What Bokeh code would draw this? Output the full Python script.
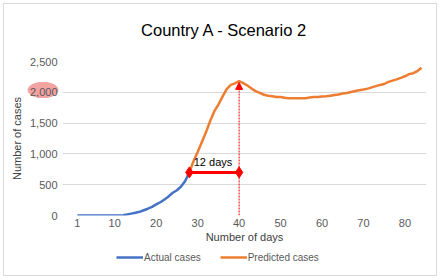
from bokeh.plotting import figure
from bokeh.layouts import column
from bokeh.models import (Range1d, Legend, LegendItem, Label, Arrow, NormalHead,
                          NumeralTickFormatter, FixedTicker)
from bokeh.embed import file_html
from bokeh.resources import INLINE

# ---- data ----
actual_days = list(range(1, 29))
actual_cases = [0, 0, 0, 0, 0, 0, 0, 0, 0, 0, 2, 5, 15, 30, 45, 60, 85, 110,
                140, 180, 215, 260, 310, 370, 410, 470, 560, 700]

predicted_days = list(range(28, 85))
predicted_cases = [700, 880, 1030, 1190, 1350, 1530, 1690, 1800, 1930, 2050,
                   2120, 2145, 2180, 2150, 2110, 2060, 2020, 1990, 1960, 1945,
                   1935, 1925, 1925, 1910, 1905, 1905, 1905, 1905, 1905, 1915,
                   1925, 1925, 1930, 1935, 1945, 1955, 1965, 1980, 1990, 2005,
                   2020, 2035, 2045, 2060, 2080, 2100, 2120, 2135, 2170, 2190,
                   2210, 2235, 2260, 2295, 2310, 2345, 2400]

marker_days = [28, 40]
marker_cases = [700, 700]
marker_label = "12 days"
peak_day = 40
peak_cases = 2160

x_ticks = [1, 10, 20, 30, 40, 50, 60, 70, 80]
y_ticks = [0, 500, 1000, 1500, 2000, 2500]

TITLE = "Country A - Scenario 2"
FONT = "Liberation Sans"
GREY = "#595959"
BLUE = "#4472C4"
ORANGE = "#ED7D31"
RED = "#ff0000"


def bare(fig):
    fig.outline_line_color = None
    fig.background_fill_color = None
    fig.border_fill_color = None
    for g in fig.grid:
        g.visible = False


# ---- title strip (frame is aligned with the chart frame by the column) ----
tf = figure(width=432, height=53, output_backend="svg", toolbar_location=None,
            x_axis_location=None, y_axis_location=None, min_border=0, title=None)
bare(tf)
tf.add_layout(Label(x=162, y=28, x_units="screen", y_units="screen", text=TITLE,
                    text_font=FONT, text_font_size="16.5px", text_color="#000000",
                    text_align="center", text_baseline="middle"))

# ---- main chart ----
p = figure(frame_width=364, frame_height=154, output_backend="svg",
           toolbar_location=None, title=None,
           x_range=Range1d(-2.6, 85.2), y_range=Range1d(0, 2500),
           min_border_left=58, min_border_right=10, min_border_top=4,
           min_border_bottom=34)
p.outline_line_color = None
p.background_fill_color = "white"
p.border_fill_color = None

p.xaxis.ticker = FixedTicker(ticks=x_ticks)
p.yaxis.ticker = FixedTicker(ticks=y_ticks)
p.yaxis.formatter = NumeralTickFormatter(format="0,0")
for ax in (p.xaxis[0], p.yaxis[0]):
    ax.axis_line_color = None
    ax.major_tick_line_color = None
    ax.minor_tick_line_color = None
    ax.major_tick_in = 0
    ax.major_tick_out = 0
    ax.major_label_text_font = FONT
    ax.major_label_text_font_size = "11px"
    ax.major_label_text_color = GREY
    ax.axis_label_text_font = FONT
    ax.axis_label_text_font_size = "11px"
    ax.axis_label_text_font_style = "normal"
    ax.axis_label_text_color = "#404040"
p.xaxis.axis_label = "Number of days"
p.yaxis.axis_label = "Number of cases"
p.xaxis.major_label_standoff = 3
p.xaxis.axis_label_standoff = 1
p.yaxis.major_label_standoff = 5
p.yaxis.axis_label_standoff = 4

p.xgrid.grid_line_color = None
p.ygrid.grid_line_color = "#d9d9d9"
p.ygrid.grid_line_width = 1

p.line(actual_days, actual_cases, line_color=BLUE, line_width=2.5)
p.line(predicted_days, predicted_cases, line_color=ORANGE, line_width=2.5)

# 12-day marker
p.line(marker_days, marker_cases, line_color=RED, line_width=3)
p.scatter(marker_days, marker_cases, marker="diamond", size=11,
          fill_color=RED, line_color=RED)
p.add_layout(Label(x=sum(marker_days) / 2 - 0.3, y=marker_cases[0] + 170,
                   text=marker_label, text_font=FONT, text_font_size="11px",
                   text_color="#000000", text_align="center",
                   text_baseline="middle"))

# dotted arrow to the peak
p.add_layout(Arrow(x_start=peak_day, y_start=0, x_end=peak_day, y_end=peak_cases,
                   line_color=RED, line_width=1, line_dash="2 1",
                   end=NormalHead(size=7, fill_color=RED, line_color=RED)))

# ---- legend strip: same series, drawn outside this strip's ranges ----
lf = figure(width=432, height=26, output_backend="svg", toolbar_location=None,
            x_axis_location=None, y_axis_location=None, min_border=0, title=None,
            x_range=Range1d(-20, -10), y_range=Range1d(-20, -10))
bare(lf)
l_act = lf.line(actual_days, actual_cases, line_color=BLUE, line_width=2.5)
l_pred = lf.line(predicted_days, predicted_cases, line_color=ORANGE, line_width=2.5)
legend = Legend(items=[LegendItem(label="Actual cases", renderers=[l_act]),
                       LegendItem(label="Predicted cases", renderers=[l_pred])],
                orientation="horizontal", location=(54, 12),
                label_text_font=FONT, label_text_font_size="10px",
                label_text_color=GREY, glyph_width=27, glyph_height=12,
                label_height=12, label_standoff=1, spacing=19, padding=0,
                margin=0, border_line_color=None, background_fill_alpha=0)
lf.add_layout(legend)

layout = column(tf, p, lf, spacing=0)
# light chart-area border and the pink highlight behind the "2,000" tick label
layout.styles = {
    "margin-left": "3px",
    "margin-top": "3px",
    "border": "1px solid #d9d9d9",
    "background": "radial-gradient(16px 8.5px at 39px 86px, #f4a3a3 92%, "
                  "rgba(244,163,163,0) 100%)",
}

open("out.html", "w").write(file_html(layout, INLINE))
